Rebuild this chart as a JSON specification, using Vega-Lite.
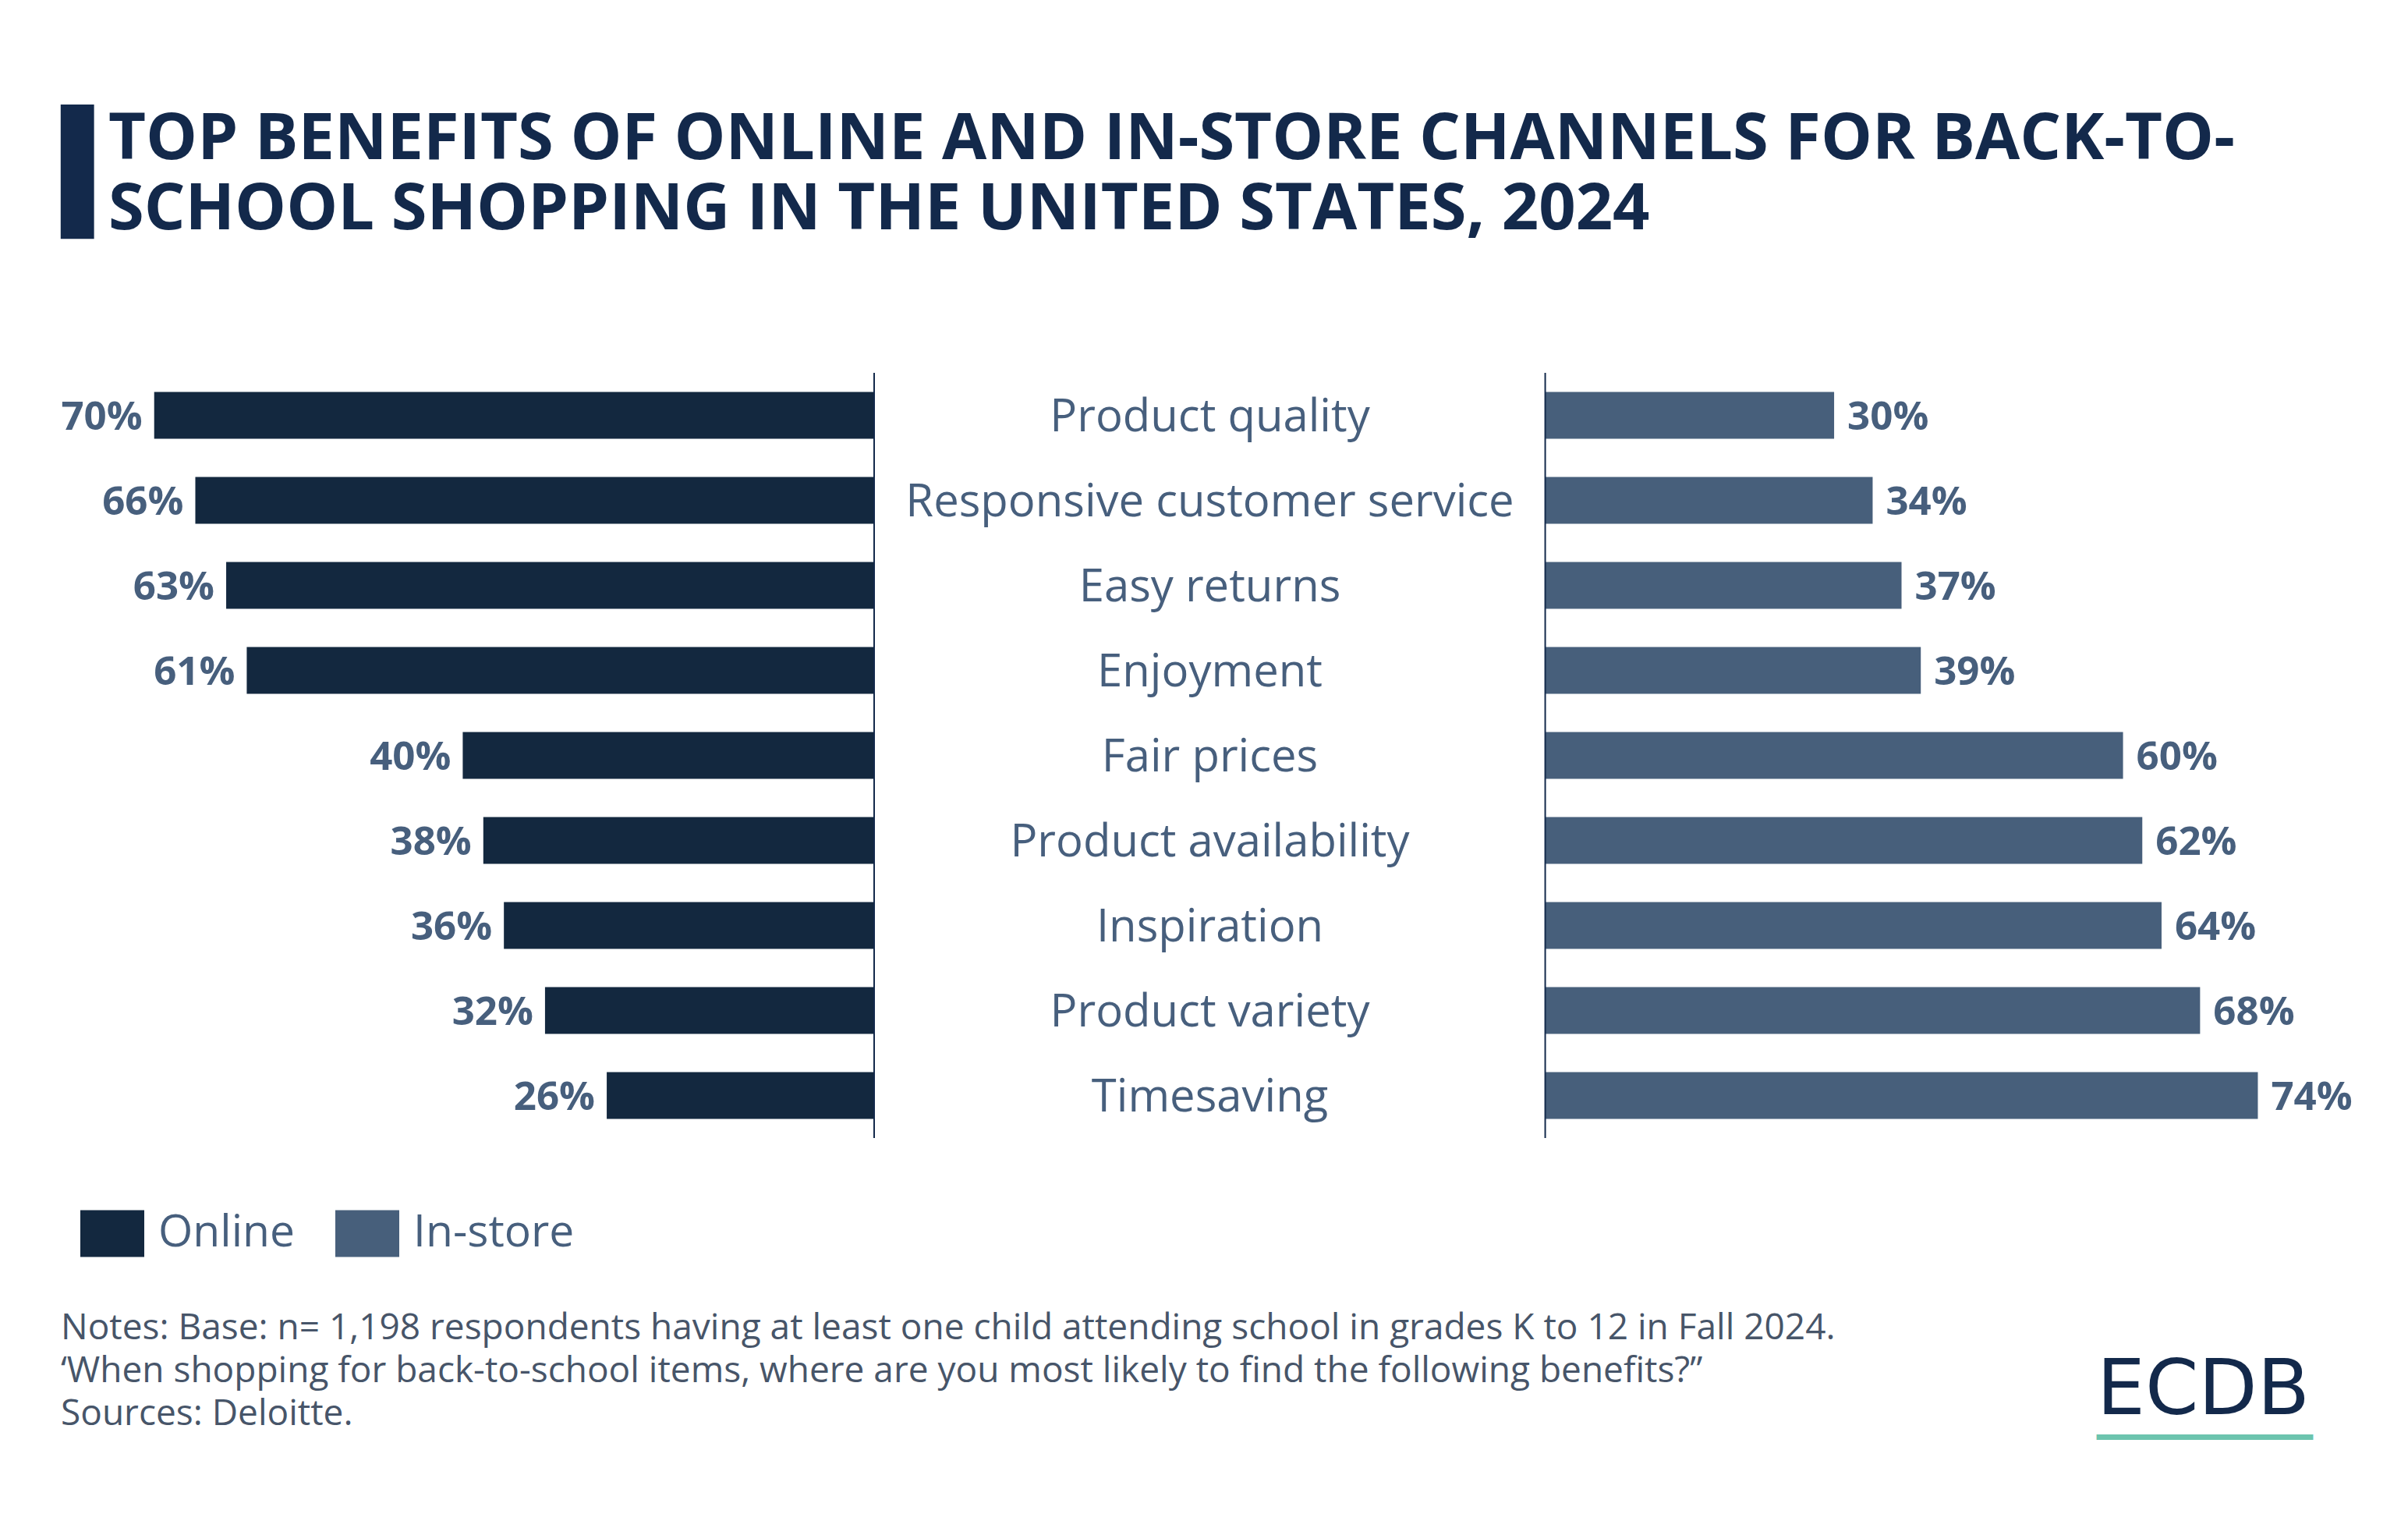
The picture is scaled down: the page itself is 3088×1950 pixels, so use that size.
{
  "$schema": "https://vega.github.io/schema/vega-lite/v6.json",
  "background": "white",
  "padding": {"top": 138, "left": 0, "right": 0, "bottom": 40},
  "config": {"view": {"stroke": null}, "concat": {"spacing": 0}},
  "title": {"text": "▍", "anchor": "start", "frame": "group", "font": "DejaVu Sans", "fontSize": 145, "fontWeight": 400, "color": "#13294b", "dx": 79, "offset": -162},
  "vconcat": [{
    "title": {"text": ["TOP BENEFITS OF ONLINE AND IN-STORE CHANNELS FOR BACK-TO-", "SCHOOL SHOPPING IN THE UNITED STATES, 2024"], "anchor": "start", "frame": "group", "font": "Open Sans", "fontWeight": 700, "fontSize": 83, "lineHeight": 90, "color": "#13294b", "dx": 139, "offset": 166},
    "vconcat": [{
      "title": {"text": "ECDB", "subtitle": "▁▁▁▁▁▁▁▁", "orient": "bottom", "anchor": "start", "frame": "group", "font": "DejaVu Sans", "fontSize": 98, "fontWeight": 400, "color": "#13294b", "subtitleFont": "DejaVu Sans", "subtitleFontSize": 45, "subtitleColor": "#6cc4ae", "subtitlePadding": -35, "dx": 2689, "dy": -104},
      "vconcat": [{
        "title": {"text": ["Notes: Base: n= 1,198 respondents having at least one child attending school in grades K to 12 in Fall 2024.", "‘When shopping for back-to-school items, where are you most likely to find the following benefits?”", "Sources: Deloitte."], "orient": "bottom", "anchor": "start", "frame": "group", "font": "Open Sans", "fontSize": 46, "fontWeight": 400, "lineHeight": 55, "color": "#475569", "dx": 78, "offset": 221},
        "width": 3088,
        "height": 981,
        "data": {"values": [
          {"benefit": "Product quality", "online": 70, "instore": 30},
          {"benefit": "Responsive customer service", "online": 66, "instore": 34},
          {"benefit": "Easy returns", "online": 63, "instore": 37},
          {"benefit": "Enjoyment", "online": 61, "instore": 39},
          {"benefit": "Fair prices", "online": 40, "instore": 60},
          {"benefit": "Product availability", "online": 38, "instore": 62},
          {"benefit": "Inspiration", "online": 36, "instore": 64},
          {"benefit": "Product variety", "online": 32, "instore": 68},
          {"benefit": "Timesaving", "online": 26, "instore": 74}
        ]},
        "layer": [
          {
            "layer": [
              {
                "mark": {"type": "bar"},
                "encoding": {
                  "y": {"field": "benefit", "type": "nominal", "sort": null, "axis": null, "scale": {"paddingInner": 0.45, "paddingOuter": 0.225}},
                  "x": {"field": "online", "type": "quantitative", "axis": null, "scale": {"domain": [84.99, -149.13], "nice": false, "zero": false}},
                  "x2": {"datum": 0},
                  "color": {"datum": "Online", "type": "nominal", "scale": {"domain": ["Online", "In-store"], "range": ["#13283f", "#475f7b"]},
                    "legend": {"orient": "none", "legendX": 103, "legendY": 1062, "direction": "horizontal", "title": null, "symbolType": "M-1,-0.732H1V0.732H-1Z", "symbolSize": 6724, "symbolStrokeWidth": 0, "symbolOpacity": 1, "labelFont": "Open Sans", "labelFontSize": 57, "labelColor": "#475f7d", "labelOffset": 18, "labelLimit": 0, "columnPadding": 51, "padding": 0}}
                }
              },
              {
                "mark": {"type": "text", "align": "right", "baseline": "alphabetic", "dx": -15, "dy": 18, "font": "Open Sans", "fontWeight": 700, "fontSize": 51, "color": "#475f7d", "text": {"expr": "datum.online + '%'"}},
                "encoding": {
                  "y": {"field": "benefit", "type": "nominal", "sort": null, "axis": null},
                  "x": {"field": "online", "type": "quantitative", "axis": null, "scale": {"domain": [84.99, -149.13], "nice": false, "zero": false}}
                }
              },
              {
                "mark": {"type": "text", "align": "center", "baseline": "alphabetic", "dy": 20, "font": "Open Sans", "fontWeight": 400, "fontSize": 58, "color": "#475f7d"},
                "encoding": {
                  "y": {"field": "benefit", "type": "nominal", "sort": null, "axis": null},
                  "x": {"datum": -32.64, "type": "quantitative", "axis": null, "scale": {"domain": [84.99, -149.13], "nice": false, "zero": false}},
                  "text": {"field": "benefit", "type": "nominal"}
                }
              },
              {
                "data": {"values": [{}]},
                "mark": {"type": "rule", "color": "#13294b", "strokeWidth": 2},
                "encoding": {
                  "x": {"datum": 0, "type": "quantitative", "axis": null, "scale": {"domain": [84.99, -149.13], "nice": false, "zero": false}}
                }
              }
            ]
          },
          {
            "layer": [
              {
                "mark": {"type": "bar"},
                "encoding": {
                  "y": {"field": "benefit", "type": "nominal", "sort": null, "axis": null},
                  "x": {"field": "instore", "type": "quantitative", "axis": null, "scale": {"domain": [-160.45, 89.59], "nice": false, "zero": false}},
                  "x2": {"datum": 0},
                  "color": {"datum": "In-store", "type": "nominal"}
                }
              },
              {
                "mark": {"type": "text", "align": "left", "baseline": "alphabetic", "dx": 17, "dy": 18, "font": "Open Sans", "fontWeight": 700, "fontSize": 51, "color": "#475f7d", "text": {"expr": "datum.instore + '%'"}},
                "encoding": {
                  "y": {"field": "benefit", "type": "nominal", "sort": null, "axis": null},
                  "x": {"field": "instore", "type": "quantitative", "axis": null, "scale": {"domain": [-160.45, 89.59], "nice": false, "zero": false}}
                }
              },
              {
                "data": {"values": [{}]},
                "mark": {"type": "rule", "color": "#13294b", "strokeWidth": 2},
                "encoding": {
                  "x": {"datum": 0, "type": "quantitative", "axis": null, "scale": {"domain": [-160.45, 89.59], "nice": false, "zero": false}}
                }
              }
            ]
          }
        ],
        "resolve": {"scale": {"x": "independent"}}
      }]
    }]
  }]
}
